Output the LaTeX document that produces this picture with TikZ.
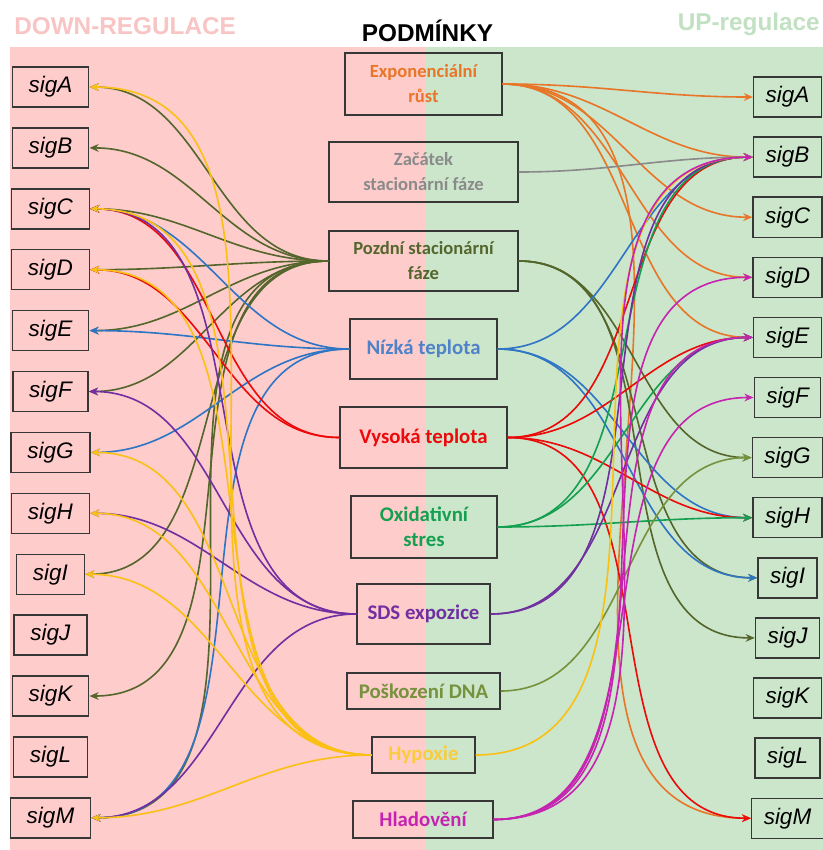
\documentclass[tikz,border=0pt]{standalone}
\usepackage{fontspec}
\setmainfont{Liberation Sans}
\newfontfamily\calfont{Carlito}
\usetikzlibrary{arrows.meta}

\definecolor{bgdown}{RGB}{255,204,204}
\definecolor{bgup}{RGB}{204,230,204}
\definecolor{hdown}{RGB}{248,196,196}
\definecolor{hup}{RGB}{194,224,194}
\definecolor{boxline}{RGB}{55,55,55}
\definecolor{cexp}{RGB}{232,118,40}
\definecolor{czac}{RGB}{138,138,138}
\definecolor{cpoz}{RGB}{84,102,44}
\definecolor{cniz}{RGB}{46,117,196}
\definecolor{tniz}{RGB}{80,130,200}
\definecolor{cvys}{RGB}{235,10,10}
\definecolor{coxi}{RGB}{20,160,80}
\definecolor{csds}{RGB}{112,48,160}
\definecolor{cpos}{RGB}{118,146,60}
\definecolor{chyp}{RGB}{250,192,20}
\definecolor{thyp}{RGB}{250,204,60}
\definecolor{chla}{RGB}{196,36,176}

\begin{document}
\begin{tikzpicture}[x=0.025cm,y=-0.025cm,>={Stealth[length=6.5pt,width=5.5pt]},
  sig/.style={draw=boxline,line width=1pt,minimum height=1cm,inner xsep=0.41cm,font=\fontsize{16}{18}\selectfont\itshape},
  rsig/.style={sig,inner xsep=0.3cm},
  cond/.style={draw=boxline,line width=1pt,align=center,font=\calfont\bfseries\fontsize{14.8}{17.8}\selectfont},
  condsm/.style={cond,font=\calfont\bfseries\fontsize{13.2}{17.8}\selectfont},
  head/.style={inner sep=0pt,font=\bfseries\fontsize{17.3}{20}\selectfont},
  dn/.style={->,line width=1.15pt,out=180,in=0},
  up/.style={->,line width=1.15pt,out=0,in=180}]
  \useasboundingbox (0,0) rectangle (823,850);
  \fill[bgdown] (10,47) rectangle (425,850);
  \fill[bgup] (425,47) rectangle (823,850);

  % titles
  \node[head,text=hdown,anchor=west] (down) at (14,26) {DOWN-REGULACE};
  \node[head] (podm) at (427.5,31) {PODMÍNKY};
  \node[head,text=hup,anchor=east] (upreg) at (820,24) {UP-regulace};

  % sigma factors, down (left) and up (right)
  \foreach \s [count=\i from 0] in {A,B,C,D,E,F,G,H,I,J,K,L,M}{
    \node[sig] (l\s) at (50.5,87+60.9*\i) {sig\s};
    \node[rsig] (r\s) at (787.5,97+60.1*\i) {sig\s};
  }

  % conditions
  \node[condsm,text=cexp,minimum width=3.925cm,minimum height=1.55cm] (expo) at (423.5,84) {Exponenciální\\růst};
  \node[condsm,text=czac,minimum width=4.725cm,minimum height=1.5cm] (zacatek) at (423.5,172) {Začátek\\stacionární fáze};
  \node[condsm,text=cpoz,minimum width=4.725cm,minimum height=1.5cm] (pozdni) at (423.5,261) {Pozdní stacionární\\fáze};
  \node[cond,text=tniz,minimum width=3.675cm,minimum height=1.5cm] (nizka) at (423.5,349) {Nízká teplota};
  \node[cond,text=cvys,minimum width=4.175cm,minimum height=1.525cm] (vysoka) at (423.5,437.5) {Vysoká teplota};
  \node[cond,text=coxi,minimum width=3.65cm,minimum height=1.55cm] (oxid) at (424,527) {Oxidativní\\stres};
  \node[cond,text=csds,minimum width=3.325cm,minimum height=1.5cm] (sds) at (423.5,614) {SDS expozice};
  \node[cond,text=cpos,minimum width=3.825cm,minimum height=0.9cm] (poskoz) at (423.5,691) {Poškození DNA};
  \node[cond,text=thyp,minimum width=2.575cm,minimum height=0.9cm] (hypox) at (423.5,755) {Hypoxie};
  \node[cond,text=chla,minimum width=3.5cm,minimum height=0.925cm] (hlad) at (423,819.5) {Hladovění};

  % down-regulation
  \foreach \s in {A,B,C,D,E,F,I,K,M} \draw[dn,cpoz] (pozdni.west) to (l\s.east);
  \foreach \s in {C,E,G,M} \draw[dn,cniz] (nizka.west) to (l\s.east);
  \foreach \s in {C,D} \draw[dn,cvys] (vysoka.west) to (l\s.east);
  \foreach \s in {C,F,H,M} \draw[dn,csds] (sds.west) to (l\s.east);
  \foreach \s in {A,C,D,G,H,I,M} \draw[dn,chyp] (hypox.west) to (l\s.east);

  % up-regulation
  \foreach \s in {A,B,C,D,E,M} \draw[up,cexp] (expo.east) to (r\s.west);
  \draw[up,czac] (zacatek.east) to (rB.west);
  \foreach \s in {G,I,J} \draw[up,cpoz] (pozdni.east) to (r\s.west);
  \foreach \s in {B,H,I} \draw[up,cniz] (nizka.east) to (r\s.west);
  \foreach \s in {B,E,H,M} \draw[up,cvys] (vysoka.east) to (r\s.west);
  \foreach \s in {B,E,H} \draw[up,coxi] (oxid.east) to (r\s.west);
  \foreach \s in {B,E} \draw[up,csds] (sds.east) to (r\s.west);
  \draw[up,cpos] (poskoz.east) to (rG.west);
  \draw[up,chyp] (hypox.east) to (rB.west);
  \foreach \s in {B,D,E,F} \draw[up,chla] (hlad.east) to (r\s.west);
\end{tikzpicture}
\end{document}
